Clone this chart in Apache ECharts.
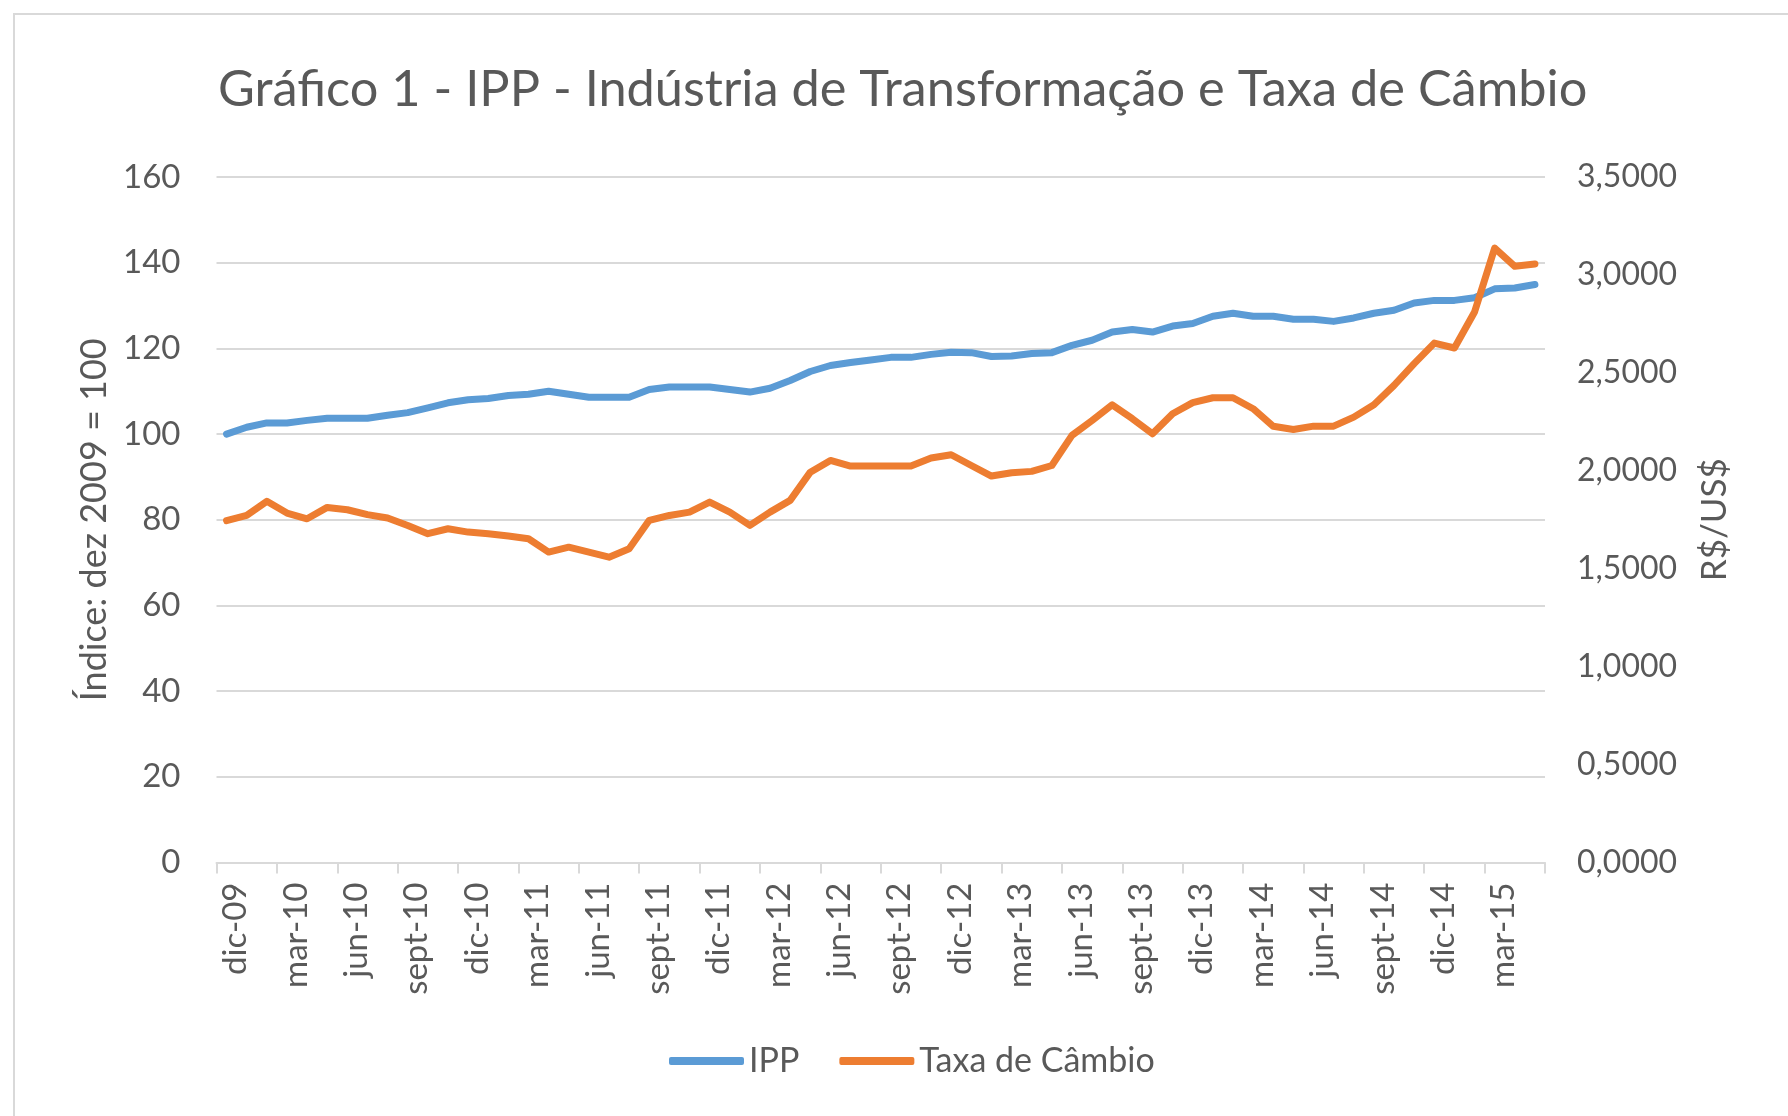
<!DOCTYPE html>
<html>
<head>
<meta charset="utf-8">
<script src="https://cdn.jsdelivr.net/npm/echarts@6/dist/echarts.min.js"></script>
<style>
html,body{margin:0;padding:0;background:#fff;}
#c{width:1788px;height:1116px;}
</style>
</head>
<body>
<div id="c"></div>
<script>
var categories = [
 'dic-09','ene-10','feb-10','mar-10','abr-10','may-10','jun-10','jul-10','ago-10','sept-10','oct-10','nov-10',
 'dic-10','ene-11','feb-11','mar-11','abr-11','may-11','jun-11','jul-11','ago-11','sept-11','oct-11','nov-11',
 'dic-11','ene-12','feb-12','mar-12','abr-12','may-12','jun-12','jul-12','ago-12','sept-12','oct-12','nov-12',
 'dic-12','ene-13','feb-13','mar-13','abr-13','may-13','jun-13','jul-13','ago-13','sept-13','oct-13','nov-13',
 'dic-13','ene-14','feb-14','mar-14','abr-14','may-14','jun-14','jul-14','ago-14','sept-14','oct-14','nov-14',
 'dic-14','ene-15','feb-15','mar-15','abr-15','may-15'
];
var ipp = [
 100.0,101.6,102.6,102.6,103.2,103.7,103.7,103.7,104.4,105.0,106.1,107.3,
 108.0,108.3,109.0,109.3,110.0,109.3,108.6,108.6,108.6,110.4,111.0,111.0,
 111.0,110.4,109.8,110.7,112.5,114.6,116.0,116.7,117.3,117.9,117.9,118.6,
 119.1,119.0,118.1,118.2,118.8,119.0,120.7,121.9,123.8,124.4,123.8,125.2,
 125.8,127.5,128.2,127.5,127.5,126.8,126.8,126.3,127.1,128.2,128.9,130.6,
 131.2,131.2,131.8,133.9,134.1,134.9
];
var cambio = [
 1.745,1.772,1.844,1.784,1.755,1.813,1.801,1.776,1.759,1.721,1.679,1.704,
 1.687,1.679,1.667,1.653,1.585,1.610,1.585,1.559,1.602,1.747,1.772,1.789,
 1.840,1.789,1.721,1.789,1.849,1.993,2.053,2.024,2.024,2.024,2.024,2.065,
 2.082,2.027,1.973,1.990,1.997,2.027,2.181,2.257,2.337,2.266,2.189,2.291,
 2.348,2.373,2.373,2.317,2.227,2.211,2.228,2.228,2.274,2.337,2.436,2.547,
 2.652,2.627,2.811,3.137,3.044,3.056
];
var leftTicks = {min: 0, max: 160, interval: 20};
var rightTicks = {min: 0, max: 3.5, interval: 0.5};

var FONT = 'Lato';
var TXT = '#595959';
var chart = echarts.init(document.getElementById('c'), null, {renderer: 'canvas'});
chart.setOption({
  backgroundColor: '#fff',
  animation: false,
  textStyle: {fontFamily: FONT, color: TXT},
  graphic: [{
    type: 'rect', shape: {x: 14, y: 14, width: 1800, height: 1200},
    style: {fill: 'none', stroke: '#d9d9d9', lineWidth: 2}, silent: true, z: -10
  }],
  title: {
    text: 'Gráfico 1 - IPP - Indústria de Transformação e Taxa de Câmbio',
    left: 213, top: 59,
    textStyle: {fontFamily: FONT, fontSize: 50.5, fontWeight: 'normal', color: TXT}
  },
  legend: {
    left: 664, top: 1039,
    itemWidth: 75, itemHeight: 8, itemGap: 40,
    icon: 'roundRect',
    textStyle: {fontFamily: FONT, fontSize: 34, color: TXT},
    data: ['IPP', 'Taxa de Câmbio']
  },
  grid: {left: 216.5, right: 243, top: 177, bottom: 1116 - 862.5, containLabel: false},
  xAxis: {
    type: 'category', data: categories, boundaryGap: true,
    axisLine: {show: true, lineStyle: {color: '#d9d9d9', width: 2}},
    axisTick: {show: true, interval: 2, length: 11, lineStyle: {color: '#d9d9d9', width: 2}},
    axisLabel: {interval: 2, rotate: 90, margin: 20, verticalAlign: 'top', lineHeight: 18,
      fontFamily: FONT, fontSize: 33, color: TXT},
    splitLine: {show: false}
  },
  yAxis: [{
    type: 'value', min: leftTicks.min, max: leftTicks.max, interval: leftTicks.interval,
    name: 'Índice: dez 2009 = 100', nameLocation: 'middle', nameGap: 104, nameRotate: 90,
    nameTextStyle: {fontFamily: FONT, fontSize: 36, color: TXT},
    axisLine: {show: false}, axisTick: {show: false},
    axisLabel: {margin: 36, fontFamily: FONT, fontSize: 33, color: TXT},
    splitLine: {show: true, lineStyle: {color: '#d9d9d9', width: 2}}
  }, {
    type: 'value', min: rightTicks.min, max: rightTicks.max, interval: rightTicks.interval,
    name: 'R$/US$', nameLocation: 'middle', nameGap: 152, nameRotate: 90,
    nameTextStyle: {fontFamily: FONT, fontSize: 35, color: TXT},
    axisLine: {show: false}, axisTick: {show: false},
    axisLabel: {margin: 32, fontFamily: FONT, fontSize: 32, color: TXT,
      formatter: function (v) { return v.toFixed(4).replace('.', ','); }},
    splitLine: {show: false}
  }],
  series: [{
    name: 'IPP', type: 'line', yAxisIndex: 0, data: ipp,
    symbol: 'none', smooth: false,
    lineStyle: {color: '#5B9BD5', width: 7, cap: 'round', join: 'round'},
    itemStyle: {color: '#5B9BD5'}
  }, {
    name: 'Taxa de Câmbio', type: 'line', yAxisIndex: 1, data: cambio,
    symbol: 'none', smooth: false,
    lineStyle: {color: '#ED7D31', width: 7, cap: 'round', join: 'round'},
    itemStyle: {color: '#ED7D31'}
  }]
});
</script>
</body>
</html>
